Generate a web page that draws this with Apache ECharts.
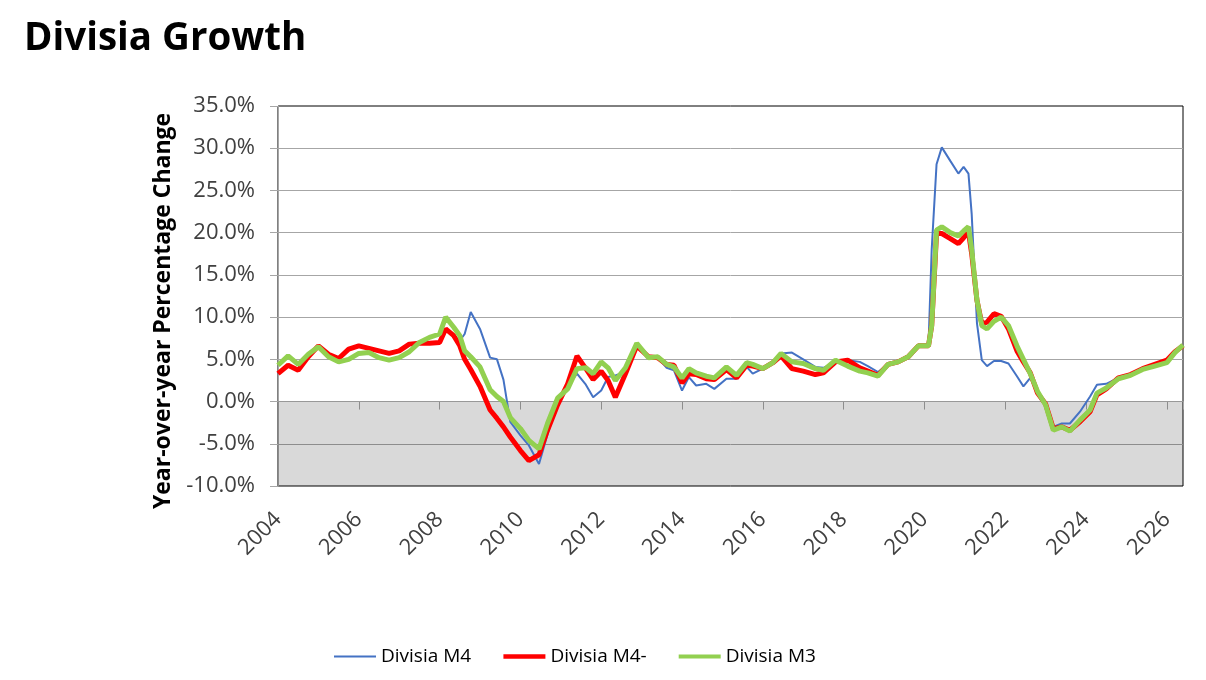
<!DOCTYPE html>
<html>
<head>
<meta charset="utf-8">
<script src="https://cdn.jsdelivr.net/npm/echarts@6/dist/echarts.min.js"></script>
<style>
html, body { margin: 0; padding: 0; background: #fff; }
#chart { width: 1206px; height: 680px; }
</style>
</head>
<body>
<div id="chart"></div>
<script>
// decimal years of the sampled points
var years = [
  2004.00, 2004.25, 2004.50, 2004.75, 2005.00, 2005.25, 2005.50, 2005.75,
  2006.00, 2006.25, 2006.50, 2006.75, 2007.00, 2007.25, 2007.50, 2007.75,
  2008.00, 2008.15, 2008.35, 2008.50, 2008.62, 2008.77, 2009.00, 2009.25,
  2009.42, 2009.58, 2009.75, 2010.00, 2010.21, 2010.46, 2010.67, 2010.92,
  2011.17, 2011.40, 2011.62, 2011.80, 2012.00, 2012.17, 2012.35, 2012.60,
  2012.88, 2013.17, 2013.40, 2013.62, 2013.80, 2014.00, 2014.17, 2014.35,
  2014.60, 2014.80, 2015.10, 2015.35, 2015.60, 2015.75, 2016.00, 2016.25,
  2016.45, 2016.72, 2017.00, 2017.30, 2017.50, 2017.80, 2018.10, 2018.40,
  2018.60, 2018.85, 2019.10, 2019.35, 2019.60, 2019.85, 2020.10, 2020.18,
  2020.30, 2020.43, 2020.64, 2020.84, 2020.97, 2021.09, 2021.17, 2021.30,
  2021.42, 2021.55, 2021.72, 2021.90, 2022.08, 2022.29, 2022.45, 2022.62,
  2022.80, 2023.00, 2023.19, 2023.40, 2023.60, 2023.85, 2024.10, 2024.27,
  2024.50, 2024.80, 2025.10, 2025.40, 2025.70, 2026.00, 2026.20, 2026.40
];

// Divisia M4 (blue)
var m4 = [
  3.3, 4.3, 3.7, 5.3, 6.6, 5.6, 5.1, 6.2,
  6.6, 6.3, 6.0, 5.7, 6.0, 6.8, 6.9, 6.9,
  7.0, 8.6, 7.8, 7.2, 8.0, 10.6, 8.6, 5.2,
  5.0, 2.6, -2.4, -4.0, -5.2, -7.4, -3.9, -0.2,
  1.8, 3.3, 2.0, 0.5, 1.3, 2.9, 3.1, 3.5,
  6.7, 5.3, 5.2, 4.0, 3.7, 1.3, 2.9, 1.9,
  2.1, 1.5, 2.7, 2.7, 4.1, 3.3, 3.9, 4.6,
  5.7, 5.8, 5.0, 4.1, 4.0, 4.7, 4.9, 4.7,
  4.2, 3.5, 4.4, 4.7, 5.3, 6.6, 6.6, 18.0,
  28.1, 30.1, 28.5, 27.0, 27.8, 27.0, 22.2, 9.3,
  4.9, 4.2, 4.8, 4.8, 4.5, 3.0, 1.8, 2.8,
  1.1, -0.3, -3.0, -2.6, -2.6, -1.2, 0.6, 2.0,
  2.1, 2.8, 3.2, 3.9, 4.4, 4.9, 5.9, 6.6
];

// Divisia M4- (red)
var m4minus = [
  3.3, 4.3, 3.7, 5.3, 6.6, 5.6, 5.1, 6.2,
  6.6, 6.3, 6.0, 5.7, 6.0, 6.8, 6.9, 6.9,
  7.0, 8.6, 7.8, 6.6, 5.0, 3.8, 1.8, -1.0,
  -2.0, -3.0, -4.2, -5.8, -7.0, -6.3, -3.4, -0.4,
  2.1, 5.4, 3.9, 2.6, 3.6, 2.5, 0.5, 3.3,
  6.6, 5.3, 5.2, 4.4, 4.3, 2.2, 3.3, 3.2,
  2.7, 2.6, 3.8, 2.8, 4.3, 4.2, 3.9, 4.6,
  5.4, 3.9, 3.6, 3.2, 3.4, 4.7, 4.9, 4.0,
  3.6, 3.1, 4.4, 4.7, 5.3, 6.6, 6.6, 9.0,
  19.9, 19.9, 19.3, 18.7, 19.4, 20.1, 17.5, 12.0,
  9.2, 9.4, 10.4, 10.1, 8.6, 6.0, 4.7, 3.4,
  1.0, -0.3, -3.2, -3.0, -3.4, -2.4, -1.2, 0.8,
  1.5, 2.8, 3.2, 3.9, 4.4, 4.9, 5.9, 6.6
];

// Divisia M3 (green)
var m3 = [
  4.3, 5.4, 4.4, 5.6, 6.5, 5.3, 4.7, 5.0,
  5.7, 5.8, 5.2, 4.9, 5.2, 5.9, 7.0, 7.6,
  8.0, 10.0, 8.8, 7.8, 6.0, 5.3, 4.1, 1.4,
  0.6, 0.0, -1.9, -3.2, -4.6, -5.6, -2.6, 0.4,
  1.5, 3.9, 4.0, 3.3, 4.7, 4.0, 2.5, 4.0,
  6.9, 5.2, 5.3, 4.4, 4.1, 2.8, 3.9, 3.4,
  3.0, 2.8, 4.1, 3.1, 4.6, 4.4, 3.9, 4.6,
  5.7, 4.7, 4.5, 3.9, 3.7, 4.9, 4.2, 3.6,
  3.4, 3.0, 4.4, 4.7, 5.3, 6.6, 6.6, 9.0,
  20.3, 20.7, 20.0, 19.6, 20.2, 20.7, 18.0, 12.0,
  9.0, 8.6, 9.5, 10.0, 9.0, 6.6, 5.0, 3.3,
  1.2, -0.4, -3.4, -3.0, -3.5, -2.2, -1.0, 1.0,
  1.6, 2.7, 3.1, 3.8, 4.2, 4.6, 5.8, 6.7
];

var seriesNames = ['Divisia M4', 'Divisia M4-', 'Divisia M3'];

function pairs(vals) {
  return years.map(function (y, i) { return [y, vals[i]]; });
}

var myChart = echarts.init(document.getElementById('chart'));

var axisGray = '#a6a6a6';
var labelColor = '#404040';

var option = {
  animation: false,
  textStyle: { fontFamily: 'Open Sans' },
  title: {
    text: 'Divisia Growth',
    left: 24,
    top: 20,
    padding: 0,
    textStyle: { fontFamily: 'Open Sans', fontSize: 38.5, fontWeight: 'bold', color: '#000' }
  },
  legend: {
    data: [
      { name: seriesNames[0], lineStyle: { width: 2 } },
      { name: seriesNames[1], lineStyle: { width: 4.5 } },
      { name: seriesNames[2], lineStyle: { width: 4 } }
    ],
    left: 333,
    top: 647,
    padding: 0,
    itemWidth: 42,
    itemHeight: 14,
    itemGap: 30,
    itemStyle: { opacity: 0 },
    textStyle: { fontSize: 19, color: '#000' }
  },
  grid: {
    left: 278,
    right: 23,
    top: 106,
    bottom: 194,
    show: true,
    borderColor: '#000',
    borderWidth: 1
  },
  xAxis: [
    {
      type: 'value',
      min: 2004,
      max: 2026.4,
      interval: 2,
      position: 'bottom',
      axisLine: { show: false, onZero: false },
      axisTick: { show: false },
      splitLine: { show: false },
      axisLabel: {
        rotate: 45,
        margin: 30,
        fontSize: 22,
        color: labelColor,
        showMaxLabel: false,
        formatter: function (v) {
          return Math.abs(v - Math.round(v)) < 1e-6 && Math.round(v) % 2 === 0 ? String(Math.round(v)) : '';
        }
      }
    },
    {
      type: 'value',
      min: 2004,
      max: 2026.4,
      interval: 2,
      position: 'top',
      axisLine: { show: true, onZero: true, onZeroAxisIndex: 0, lineStyle: { color: axisGray } },
      axisTick: { show: true, inside: true, length: 8, lineStyle: { color: axisGray } },
      axisLabel: { show: false },
      splitLine: { show: false }
    }
  ],
  yAxis: {
    type: 'value',
    min: -10,
    max: 35,
    interval: 5,
    name: 'Year-over-year Percentage Change',
    nameLocation: 'middle',
    nameGap: 99,
    nameTextStyle: { fontSize: 23, fontWeight: 'bold', color: '#000', padding: [0, 30, 0, 0] },
    axisLine: { show: true, lineStyle: { color: axisGray } },
    axisTick: { show: true, length: 8, lineStyle: { color: axisGray } },
    splitLine: { show: true, showMinLine: false, showMaxLine: false, lineStyle: { color: axisGray } },
    axisLabel: {
      margin: 23,
      fontSize: 22,
      color: labelColor,
      formatter: function (v) { return v.toFixed(1) + '%'; }
    }
  },
  series: [
    {
      // shaded band below zero
      type: 'line',
      silent: true,
      data: [],
      markArea: {
        silent: true,
        itemStyle: { color: 'rgba(0,0,0,0.15)' },
        data: [[{ yAxis: -10 }, { yAxis: 0 }]]
      }
    },
    {
      name: seriesNames[0],
      type: 'line',
      symbol: 'none',
      data: pairs(m4),
      lineStyle: { color: '#4472c4', width: 2 },
      itemStyle: { color: '#4472c4' }
    },
    {
      name: seriesNames[1],
      type: 'line',
      symbol: 'none',
      data: pairs(m4minus),
      lineStyle: { color: '#ff0000', width: 5 },
      itemStyle: { color: '#ff0000' }
    },
    {
      name: seriesNames[2],
      type: 'line',
      symbol: 'none',
      data: pairs(m3),
      lineStyle: { color: '#92d050', width: 5 },
      itemStyle: { color: '#92d050' }
    }
  ]
};

myChart.setOption(option);
</script>
</body>
</html>
